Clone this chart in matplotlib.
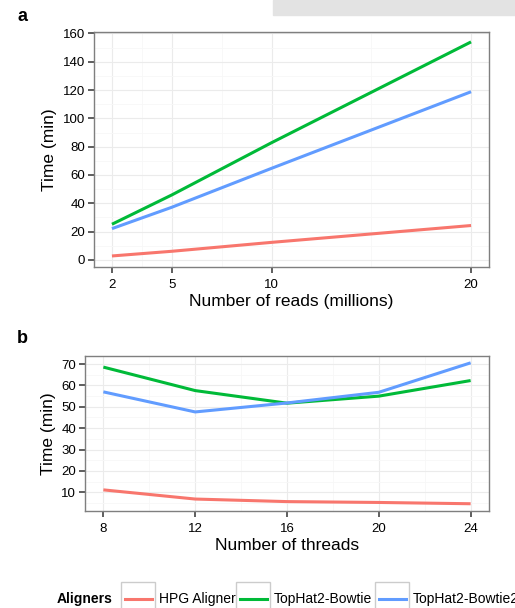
import numpy as np
import matplotlib
matplotlib.use("Agg")
import matplotlib.pyplot as plt
from matplotlib.patches import Rectangle
from matplotlib.lines import Line2D

plt.rcParams['font.family'] = ['Liberation Sans', 'DejaVu Sans']

# data
aligners = ['HPG Aligner', 'TopHat2-Bowtie', 'TopHat2-Bowtie2']
colors = ['#F8766D', '#00BA38', '#619CFF']

reads = [2, 5, 10, 20]
reads_hpg = [2.8, 6.1, 12.4, 24.3]
reads_bowtie = [25.2, 45.9, 82.8, 154.0]
reads_bowtie2 = [22.1, 37.2, 64.7, 118.8]

threads = [8, 12, 16, 20, 24]
threads_hpg = [11.1, 6.8, 5.6, 5.2, 4.6]
threads_bowtie = [68.6, 57.6, 51.7, 55.0, 62.3]
threads_bowtie2 = [57.0, 47.6, 51.8, 56.8, 70.6]

W, H = 515, 608
fig = plt.figure(figsize=(W / 100, H / 100), dpi=100)


def px(x0, y0, x1, y1):
    # pixel box -> figure fraction [left, bottom, width, height]
    return [x0 / W, 1 - y1 / H, (x1 - x0) / W, (y1 - y0) / H]


def style(ax, xmaj, xmin, ymaj, ymin):
    ax.set_xticks(xmaj)
    ax.set_xticks(xmin, minor=True)
    ax.set_yticks(ymaj)
    ax.set_yticks(ymin, minor=True)
    ax.grid(which='major', color='#ebebeb', lw=0.8)
    ax.grid(which='minor', color='#f7f7f7', lw=0.6)
    ax.set_axisbelow(True)
    for s in ax.spines.values():
        s.set_color('#7f7f7f')
        s.set_linewidth(1.0)
    ax.tick_params(which='major', length=4.3, width=1.1, color='#333333',
                   labelsize=9.5, labelcolor='black')
    ax.tick_params(axis='x', which='major', pad=4.5)
    ax.tick_params(axis='y', which='major', pad=2)
    ax.tick_params(which='minor', length=0)


# grey strip top right
fig.patches.append(Rectangle((273 / W, 1 - 15 / H), 242 / W, 15 / H,
                             transform=fig.transFigure, color='#e3e3e3', zorder=0))

# panel a
ax1 = fig.add_axes(px(94, 32, 489, 267))
for y, c, lab in zip([reads_hpg, reads_bowtie, reads_bowtie2], colors, aligners):
    ax1.plot(reads, y, color=c, lw=2.2, label=lab, solid_capstyle='butt')
ax1.set_xlim(1.1, 20.9)
ax1.set_ylim(-5, 161)
style(ax1, [2, 5, 10, 20], [3.5, 7.5, 15], range(0, 161, 20), range(10, 161, 20))
ax1.set_xlabel('Number of reads (millions)', fontsize=12.5, labelpad=2)
ax1.set_ylabel('Time (min)', fontsize=12.5, labelpad=4)
fig.text(17 / W, 1 - 21 / H, 'a', fontsize=13, fontweight='bold')

# panel b
ax2 = fig.add_axes(px(85, 356, 489, 511))
for y, c, lab in zip([threads_hpg, threads_bowtie, threads_bowtie2], colors, aligners):
    ax2.plot(threads, y, color=c, lw=2.2, label=lab, solid_capstyle='butt')
ax2.set_xlim(7.2, 24.8)
ax2.set_ylim(1.2, 73.8)
style(ax2, threads, [10, 14, 18, 22], range(10, 71, 10), [5, 15, 25, 35, 45, 55, 65])
ax2.set_xlabel('Number of threads', fontsize=12.5, labelpad=2)
ax2.set_ylabel('Time (min)', fontsize=12.5, labelpad=4)
fig.text(17 / W, 1 - 343 / H, 'b', fontsize=13, fontweight='bold')

# legend along the bottom (runs off the right edge as in the source)
ly = 1 - 599 / H
fig.text(57 / W, ly, 'Aligners', fontsize=10, fontweight='bold', va='center')
box_x = [121, 236, 375]
for bx, c, lab in zip(box_x, colors, aligners):
    fig.patches.append(Rectangle((bx / W, 1 - 620 / H), 34 / W, 38 / H,
                                 transform=fig.transFigure, facecolor='white',
                                 edgecolor='#cccccc', lw=1.0))
    fig.lines.append(Line2D([(bx + 4) / W, (bx + 31) / W], [ly, ly],
                            transform=fig.transFigure, color=c, lw=2.2))
    fig.text((bx + 38) / W, ly, lab, fontsize=10, va='center')

fig.savefig('out.png', dpi=100)
